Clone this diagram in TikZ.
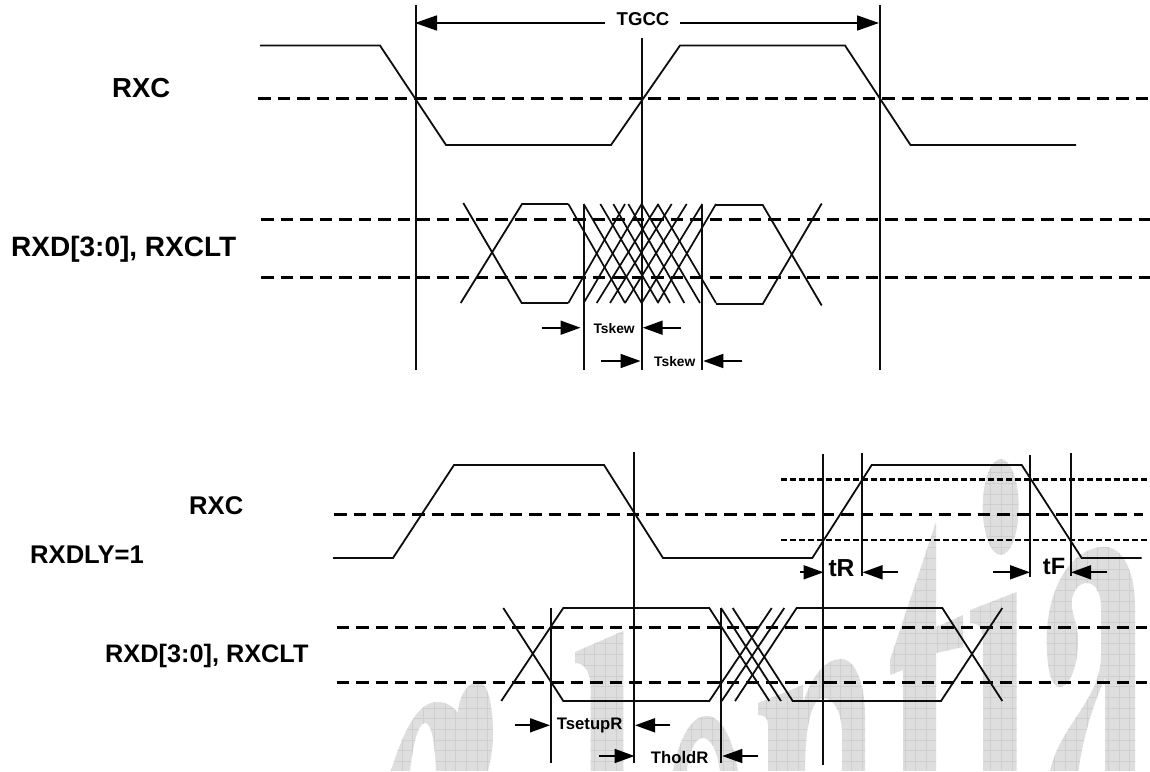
\documentclass[tikz,border=0pt]{standalone}
\usepackage{fontspec}
\setmainfont{Liberation Sans}
\usetikzlibrary{arrows.meta}
\tikzset{
  wave/.style={line width=1.8pt,line join=miter,black!95},
  cross/.style={line width=1.7pt,black!95},
  vline/.style={line width=1.8pt,black!95},
  longdash/.style={line width=3pt,black,dash pattern=on 12.5pt off 7pt},
  shortdash/.style={line width=2.6pt,black,dash pattern=on 6pt off 3pt},
  dim/.style={line width=1.7pt,black,-{Triangle[length=20pt,width=14pt]}},
  dimL/.style={line width=1.7pt,black,-{Triangle[length=22pt,width=15pt]}},
  lab/.style={inner sep=0pt,anchor=base west,font=\bfseries,text=black},
}
\newcommand{\fs}[1]{\fontsize{#1}{#1}\selectfont}
\begin{document}
\begin{tikzpicture}[x=1pt,y=-1pt]
\useasboundingbox (0,0) rectangle (1150,771);
\fill[white] (0,0) rectangle (1150,771);
% watermark
\begin{scope}
\clip
 (391,771) .. controls (405,725) and (420,702) .. (437,702) .. controls (446,702) and (453,706) .. (458,713)
   .. controls (459,695) and (468,682) .. (478,682) .. controls (488,682) and (493,705) .. (493,735)
   .. controls (493,750) and (490,762) .. (488,771) -- (458,771) -- (440,771)
   -- (436,771) .. controls (435,745) and (432,723) .. (425,723) .. controls (418,723) and (413,745) .. (410,771) -- cycle
 (590.7,771) -- (590.7,690) .. controls (590.7,672) and (585,663) .. (575,663) -- (575,652) -- (623.3,631) -- (623.3,771) -- cycle
 (673,771) .. controls (680,735) and (692,716) .. (706.7,716) .. controls (722,716) and (733,740) .. (738,771)
   -- (720,771) .. controls (717,750) and (711,738) .. (702.7,738) .. controls (695,738) and (689,752) .. (686.7,771) -- cycle
 (768,771) -- (768,725) .. controls (768,718) and (765,715) .. (758,715) -- (758,703) -- (803,685) -- (803,703)
   .. controls (812,675) and (826,659) .. (841,659) .. controls (856,659) and (865,685) .. (865,717) -- (865,771) -- (842,771)
   -- (842,735) .. controls (842,712) and (834,698) .. (823,698) .. controls (812,698) and (805,725) .. (805,771) -- cycle
 (903,771) -- (903,670) -- (890,675) -- (890,660) -- (936,522) -- (936,627) -- (963,615) -- (963,647) -- (936,653) -- (936,771) -- cycle
 (983,771) -- (983,640) .. controls (983,630) and (980,623) .. (970,623) -- (970,610) -- (1016.7,592) -- (1016.7,771) -- cycle
 (1000.7,507) ellipse[x radius=18,y radius=48]
 (1050,771) .. controls (1060,725) and (1101,700) .. (1101,655) -- (1101,607) .. controls (1101,592) and (1095,583) .. (1086.7,583)
   .. controls (1078,583) and (1071.7,593) .. (1071.7,603) .. controls (1071.7,615) and (1078,625) .. (1078,640)
   .. controls (1078,665) and (1070,687) .. (1060,687) .. controls (1050,687) and (1046.7,665) .. (1046.7,640)
   .. controls (1046.7,590) and (1070,547) .. (1105,547) .. controls (1122,547) and (1135,570) .. (1135,607)
   -- (1135,771) -- (1105,771) -- (1105,678) .. controls (1095,700) and (1083,735) .. (1078.6,771) -- cycle;
\fill[black!13] (380,450) rectangle (1150,771);
\foreach \i in {0,...,72} \draw[black!19,line width=0.8pt] ({1119-\i*10.7},450) -- ({1119-\i*10.7},771);
\draw[black!19,line width=0.8pt] (1129.7,450) -- (1129.7,771);
\foreach \i in {0,...,24} \draw[black!19,line width=0.8pt] (380,{708-\i*10.7}) -- (1150,{708-\i*10.7});
\foreach \i in {1,...,6} \draw[black!19,line width=0.8pt] (380,{708+\i*10.7}) -- (1150,{708+\i*10.7});
\end{scope}
% === top diagram ===
\draw[longdash] (258,98) -- (1150,98);
\draw[longdash] (261,219) -- (1150,219);
\draw[longdash] (261,277) -- (1150,277);
\draw[wave] (260,45.5) -- (380,45.5) -- (446,145) -- (611,145) -- (680,45.5) -- (845,45.5) -- (910.5,145) -- (1076,145);
\foreach \xx/\ya/\yb in {416/5/370,880/5/370,642/38/370,583.7/204/370,702/205/370}
  \draw[vline] (\xx,\ya) -- (\xx,\yb);
% left eye
\draw[wave] (463.3,203) -- (521.7,303) -- (568.3,303);
\draw[wave] (460.7,303) -- (522,204) -- (568.3,204);
% crossing region
\foreach \a/\b in {385/555,431/605,470/655,510/695,555/740,605/787,653/828}
  \draw[cross] ({440+\a/3},303) -- ({440+\b/3},204);
\foreach \a/\b in {385/555,431/605,481/655,520/690,565/733,605/780,653/828}
  \draw[cross] ({440+\a/3},204) -- ({440+\b/3},303);
% right eye
\draw[wave] (716,205) -- (762.7,205) -- (821.7,305.5);
\draw[wave] (716,304) -- (762.7,304) -- (821.7,203.5);
% TGCC
\node[lab] (tgcc) at (616.5,25.7) {\fs{18.6}TGCC};
\draw[dimL] (604.5,23) -- (415,23);
\draw[dimL] (680,23) -- (879,23);
% Tskew
\node[lab] (ts1) at (593.3,333.7) {\fs{13.8}Tskew};
\node[lab] (ts2) at (654,366.7) {\fs{13.8}Tskew};
\draw[dim] (541.7,327.7) -- (580.5,327.7);
\draw[dim] (680.7,327.7) -- (642.7,327.7);
\draw[dim] (601,361) -- (640.5,361);
\draw[dim] (742.3,361) -- (703.3,361);
% labels
\node[lab] (rxc1) at (112,97.3) {\fs{27.5}RXC};
\node[lab] (rxd1) at (11,256.7) {\fs{28}RXD[3:0], RXCLT};
% === bottom diagram ===
\draw[longdash] (334,514) -- (1143,514);
\draw[longdash] (336.7,627.5) -- (1147,627.5);
\draw[longdash] (336.7,682) -- (1147,682);
\draw[shortdash] (781,479.3) -- (1150,479.3);
\draw[shortdash] (781,540) -- (1150,540);
\draw[wave] (333,558) -- (393,558) -- (454,465) -- (604,465) -- (663,558) -- (812.3,558) -- (871.7,465) -- (1021.7,465) -- (1081.7,558) -- (1141.7,558);
\foreach \xx/\ya/\yb in {823.3/454/765,862.3/453/576,1029.7/455/577,1071.3/453/576,633.7/452/763,550.7/608/763,721/608/763}
  \draw[vline] (\xx,\ya) -- (\xx,\yb);
% data eye
\draw[wave] (503.3,608) -- (563.3,701) -- (709.3,701) -- (771.7,608);
\draw[wave] (501.3,701) -- (563.3,608) -- (709.3,608) -- (769.3,701);
\draw[wave] (721,608) -- (781,701);
\draw[wave] (721.7,701) -- (784.3,608);
\draw[wave] (732.7,608) -- (792.7,701) -- (941,701) -- (1002.3,608);
\draw[wave] (735,701) -- (796.7,608) -- (942.3,608) -- (1002.3,701);
% dims
\draw[dim] (514.7,725.3) -- (550,725.3);
\draw[dim] (670,725.3) -- (635,725.3);
\draw[dim] (599,756) -- (634.5,756);
\draw[dim] (758.3,756) -- (722.3,756);
\draw[dim] (800,572.3) -- (823.5,572.3);
\draw[dim] (898.3,572.3) -- (862.5,572.3);
\draw[dim] (993.3,572.3) -- (1030,572.3);
\draw[dim] (1107.3,572.3) -- (1071,572.3);
\node[lab] (tsu) at (556.7,729) {\fs{16.7}TsetupR};
\node[lab] (thd) at (650.7,763) {\fs{16.7}TholdR};
\node[lab] (tr) at (828.3,576.7) {\fs{24.6}tR};
\node[lab] (tf) at (1042.7,574) {\fs{23.6}tF};
\node[lab] (rxc2) at (189,514.5) {\fs{25.6}RXC};
\node[lab] (rxdly) at (30,563) {\fs{25.6}RXDLY=1};
\node[lab] (rxd2) at (105,662.3) {\fs{25.3}RXD[3:0], RXCLT};
\end{tikzpicture}
\end{document}
